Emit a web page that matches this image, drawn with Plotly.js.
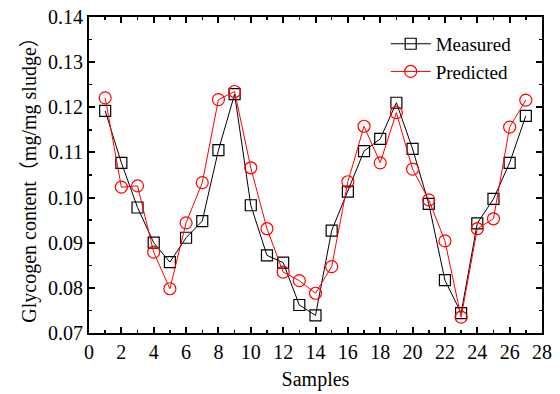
<!DOCTYPE html>
<html>
<head>
<meta charset="utf-8">
<script src="https://cdn.plot.ly/plotly-3.0.1.min.js"></script>
<style>html,body{margin:0;padding:0;background:#fff;}#chart{width:560px;height:394px;}</style>
</head>
<body>
<div id="chart"></div>
<script>
var samples = [1,2,3,4,5,6,7,8,9,10,11,12,13,14,15,16,17,18,19,20,21,22,23,24,25,26,27];
var measured = [0.1192,0.1077,0.0978,0.0900,0.0857,0.0911,0.0948,0.1105,0.1229,
                0.0983,0.0872,0.0856,0.0762,0.0739,0.0927,0.1013,0.1103,0.1130,
                0.1210,0.1108,0.0986,0.0817,0.0744,0.0943,0.0997,0.1077,0.1181];
var predicted = [0.1221,0.1023,0.1026,0.0879,0.0798,0.0944,0.1033,0.1217,0.1235,
                 0.1066,0.0931,0.0835,0.0816,0.0788,0.0847,0.1035,0.1158,0.1077,
                 0.1188,0.1063,0.0995,0.0904,0.0735,0.0931,0.0953,0.1156,0.1216];
var xTicks = [0,2,4,6,8,10,12,14,16,18,20,22,24,26,28];
var yTicks = [0.07,0.08,0.09,0.10,0.11,0.12,0.13,0.14];

var font = "Liberation Serif, Times New Roman, Noto Sans CJK SC, serif";

var traces = [
  {x: samples, y: measured, name: 'Measured', type: 'scatter', mode: 'lines+markers',
   line: {color: '#000000', width: 1},
   marker: {symbol: 'square-open', size: 11, color: '#000000', line: {width: 1.2}}},
  {x: samples, y: predicted, name: 'Predicted', type: 'scatter', mode: 'lines+markers',
   line: {color: '#ff0000', width: 1},
   marker: {symbol: 'circle-open', size: 12, color: '#ff0000', line: {width: 1.2}}}
];

var axisCommon = {
  showgrid: false, zeroline: false, showline: true, linecolor: '#000', linewidth: 2,
  mirror: 'allticks', ticks: 'inside', ticklen: 6, tickwidth: 2, tickcolor: '#000',
  tickfont: {family: font, size: 20, color: '#000'}
};

var layout = {
  width: 560, height: 394,
  margin: {l: 89, r: 18, t: 17, b: 61},
  paper_bgcolor: '#fff', plot_bgcolor: '#fff',
  showlegend: true,
  legend: {x: 0.655, y: 0.975, xanchor: 'left', yanchor: 'top', bgcolor: 'rgba(0,0,0,0)',
           font: {family: font, size: 19, color: '#000'}, tracegroupgap: 0, itemwidth: 40},
  xaxis: Object.assign({}, axisCommon, {
    range: [0, 28], tickvals: xTicks, ticktext: xTicks.map(String),
    minor: {dtick: 1, tick0: 0, ticks: 'inside', ticklen: 3, tickwidth: 1.5, tickcolor: '#000'},
    title: {text: 'Samples', font: {family: font, size: 20, color: '#000'}, standoff: 10}
  }),
  yaxis: Object.assign({}, axisCommon, {
    range: [0.07, 0.14], tickvals: yTicks, ticktext: yTicks.map(function(v){return v.toFixed(2);}),
    minor: {dtick: 0.005, tick0: 0.07, ticks: 'inside', ticklen: 3, tickwidth: 1.5, tickcolor: '#000'},
    title: {text: 'Glycogen content（mg/mg sludge）', font: {family: font, size: 20, color: '#000'}, standoff: 6}
  })
};

Plotly.newPlot('chart', traces, layout, {displayModeBar: false, staticPlot: true});
</script>
</body>
</html>
